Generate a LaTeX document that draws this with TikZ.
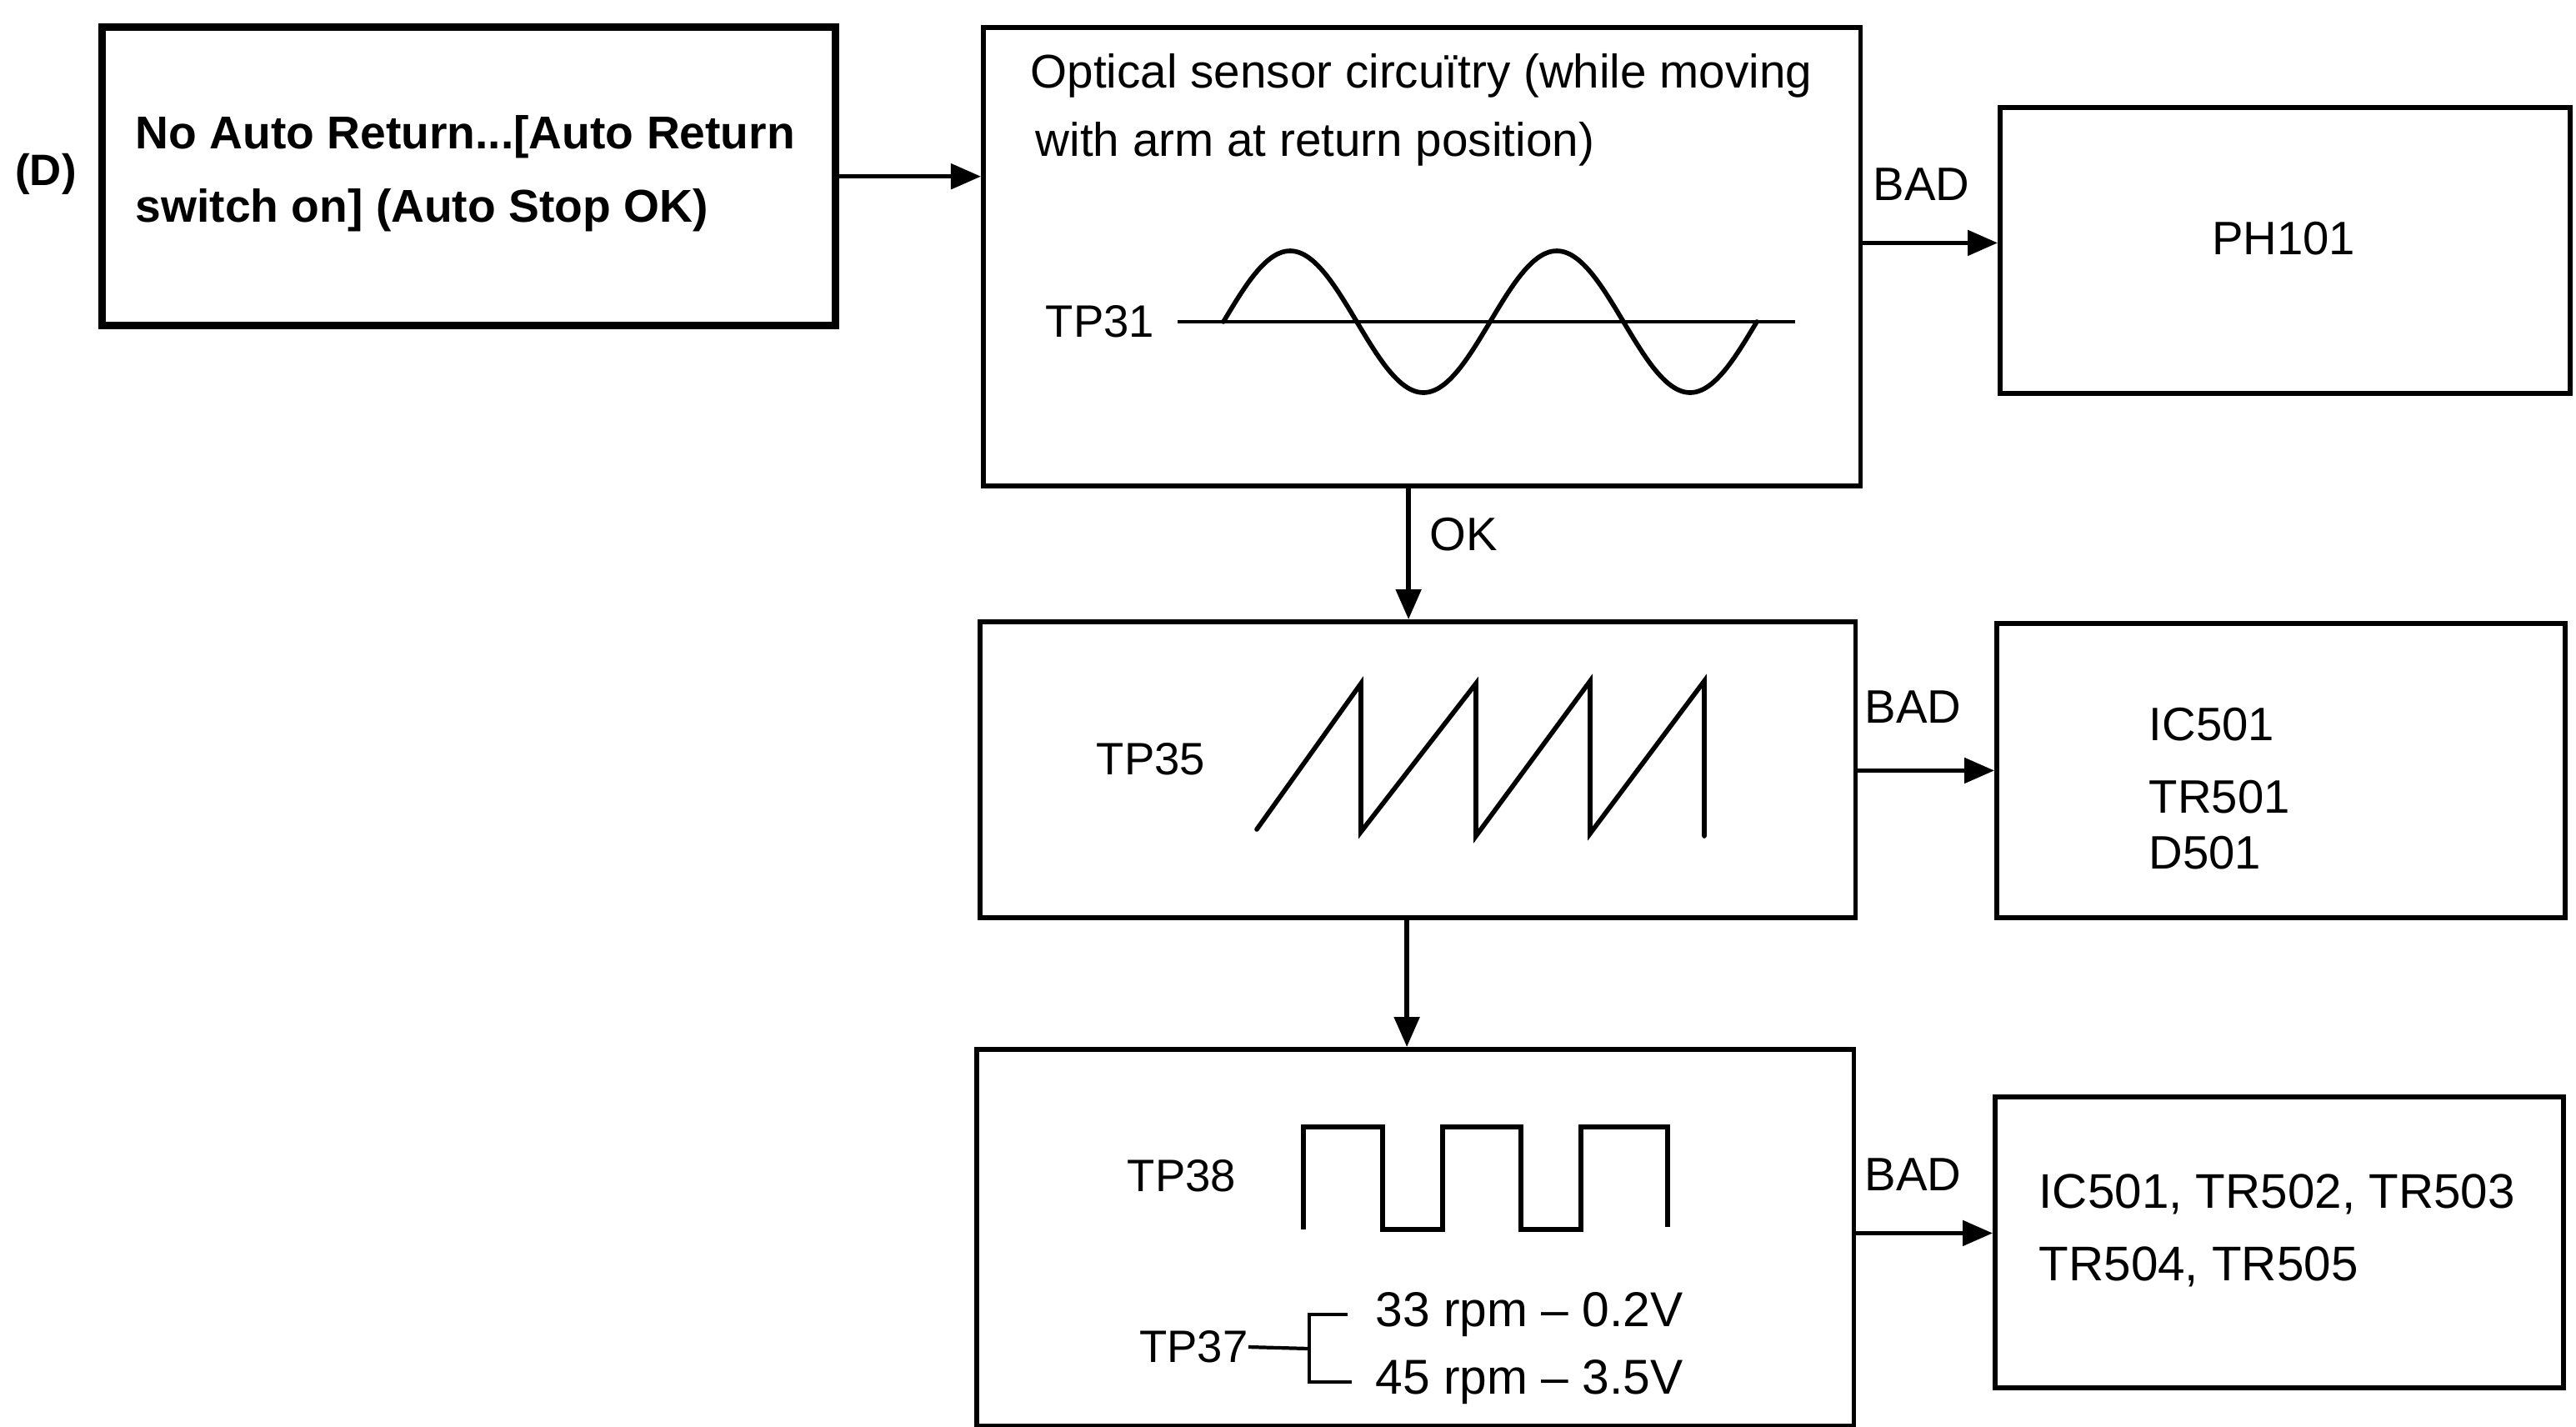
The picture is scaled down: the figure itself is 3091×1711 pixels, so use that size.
\documentclass[tikz,border=0pt]{standalone}
\usepackage{fontspec}
\setmainfont{Liberation Sans}
\usetikzlibrary{arrows.meta}
\begin{document}
\begin{tikzpicture}[x=0.01cm,y=-0.01cm,
  box/.style={draw, line width=1.6pt, inner sep=0pt, anchor=north west},
  thickbox/.style={box, line width=2.6pt},
  txt/.style={inner sep=0pt, font=\fontsize{15.5pt}{24pt}\selectfont},
  otxt/.style={inner sep=0pt, font=\fontsize{16.1pt}{23.3pt}\selectfont},
  rtxt/.style={inner sep=0pt, font=\fontsize{16.7pt}{24pt}\selectfont},
  btxt/.style={inner sep=0pt, font=\fontsize{15.7pt}{25pt}\selectfont\bfseries},
  dtxt/.style={inner sep=0pt, font=\fontsize{15pt}{25pt}\selectfont\bfseries},
  wtxt/.style={inner sep=0pt, font=\fontsize{16pt}{24.7pt}\selectfont},
  etxt/.style={inner sep=0pt, font=\fontsize{16.6pt}{24.7pt}\selectfont},
  arr/.style={line width=1.5pt, -{Triangle[length=0.36cm,width=0.3cm]}},
  wave/.style={line width=1.6pt, line join=round, line cap=round},
  thin/.style={line width=0.9pt},
  brk/.style={line width=1.2pt}
]
\useasboundingbox (0,0) rectangle (3091,1711);
\fill[white] (0,0) rectangle (3091,1711);

% boxes
\node[thickbox, minimum width=8.79cm, minimum height=3.58cm] (A) at (118,28) {};
\node[box, minimum width=10.52cm, minimum height=5.50cm] (B) at (1177,30) {};
\node[box, minimum width=6.84cm, minimum height=3.43cm] (PH) at (2397,126) {};
\node[box, minimum width=10.50cm, minimum height=3.55cm] (C) at (1173,743) {};
\node[box, minimum width=6.82cm, minimum height=3.53cm] (IC) at (2393,745) {};
\node[box, minimum width=10.52cm, minimum height=4.52cm] (D) at (1169,1256) {};
\node[box, minimum width=6.82cm, minimum height=3.49cm] (E) at (2391,1313) {};

% texts
\node[dtxt] (dlab) at (55,209) {(D)};
\node[btxt, anchor=west, align=left] (Atext) at (162,208) {No Auto Return...[Auto Return\\switch on] (Auto Stop OK)};
\node[otxt, anchor=west, align=left] (Btext) at (1236,132) {Optical sensor circuïtry (while moving\\\hspace*{0.06cm}with arm at return position)};
\node[txt, anchor=west] (tp31) at (1254,386) {TP31};
\node[wtxt] (ph) at (2740,286) {PH101};
\node[wtxt, anchor=west] (bad1) at (2247,221) {BAD};
\node[wtxt, anchor=west] (ok) at (1715,641) {OK};
\node[txt, anchor=west] (tp35) at (1315,911) {TP35};
\node[wtxt, anchor=west] (bad2) at (2237,848) {BAD};
\node[wtxt, anchor=west] (ic1) at (2578,869) {IC501};
\node[wtxt, anchor=west] (tr1) at (2578,956) {TR501};
\node[wtxt, anchor=west] (d1) at (2578,1023) {D501};
\node[txt, anchor=west] (tp38) at (1352,1411) {TP38};
\node[txt, anchor=east] (tp37) at (1498,1616) {TP37};
\node[rtxt, anchor=west] (r33) at (1650,1577) {33 rpm -- 0.2V};
\node[rtxt, anchor=west] (r45) at (1650,1658) {45 rpm -- 3.5V};
\node[wtxt, anchor=west] (bad3) at (2237,1409) {BAD};
\node[etxt, anchor=west, align=left] (Etext) at (2446,1476) {IC501, TR502, TR503\\TR504, TR505};

% connectors
\draw[arr] (A.east) -- (A.east -| B.west);
\draw[arr] ([yshift=0.09cm]PH.west -| B.east) -- ([yshift=0.09cm]PH.west);
\draw[arr] ([xshift=-0.16cm]B.south) -- ([xshift=-0.16cm]B.south |- C.north);
\draw[arr] (IC.west -| C.east) -- (IC.west);
\draw[arr] ([xshift=-0.13cm]C.south) -- ([xshift=-0.13cm]C.south |- D.north);
\draw[arr] ([yshift=0.11cm]E.west -| D.east) -- ([yshift=0.11cm]E.west);

% TP37 bracket
\coordinate (bx) at (1571,1618);
\draw[brk] (tp37.east) -- (bx);
\draw[brk] ([xshift=-0.33cm]r33.west) -- (r33.west -| bx) -- (r45.west -| bx) -- ([xshift=-0.28cm]r45.west);

% sine wave TP31
\draw[thin] (1413,386) -- (2154,386);
\draw[wave] plot[domain=0:640, samples=120, smooth] ({1468+\x},{386-85*sin(1.125*\x)});

% sawtooth TP35
\draw[wave, line join=miter] (1508,995) -- (1633,820) -- (1633,998) -- (1771,820) -- (1771,1003)
  -- (1908,817) -- (1908,1000) -- (2045,817) -- (2045,1003);

% square wave TP38
\draw[wave, line join=miter, line cap=butt] (1564,1475) -- (1564,1352) -- (1659,1352) -- (1659,1475) -- (1731,1475)
  -- (1731,1352) -- (1825,1352) -- (1825,1475) -- (1897,1475) -- (1897,1352)
  -- (2001,1352) -- (2001,1472);
\end{tikzpicture}
\end{document}
